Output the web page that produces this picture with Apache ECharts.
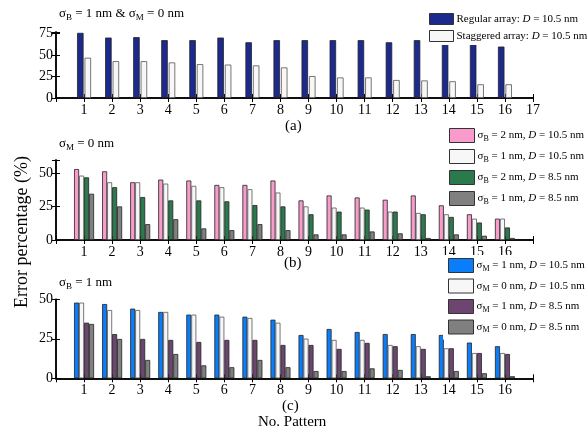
<!DOCTYPE html>
<html>
<head>
<meta charset="utf-8">
<script src="https://cdn.jsdelivr.net/npm/echarts@6/dist/echarts.min.js"></script>
<style>html,body{margin:0;padding:0;background:#fff;}#c{width:588px;height:435px;}</style>
</head>
<body>
<div id="c"></div>
<script>
// ---- data ----
var patterns = [1,2,3,4,5,6,7,8,9,10,11,12,13,14,15,16];
var regularA   = [76, 70.5, 71, 67.5, 67.5, 70.5, 65, 67.5, 67.5, 67.5, 67.5, 65, 67.5, 63.5, 63.5, 60];
var staggeredA = [47, 43, 43, 41.5, 39.5, 39, 38, 35.7, 25.6, 24, 24, 21, 20.5, 19.5, 16, 16];

var bPink  = [53.2, 51.5, 43.3, 45.3, 44.6, 41.3, 41.3, 44.6, 29.7, 33.4, 31.9, 30.2, 33.4, 26, 19.3, 16];
var bWhite = [48.3, 43.3, 43.3, 42.3, 40.6, 39.6, 38.1, 35.6, 25.2, 24.3, 24.3, 21.3, 20.3, 19.3, 16, 16];
var bGreen = [47, 39.6, 32.2, 29.7, 29.7, 29, 26.2, 25.2, 19.3, 21.3, 22.8, 21.3, 19.3, 17.3, 13.1, 9.4];
var bGray  = [34.7, 25.2, 11.9, 15.6, 8.7, 7.4, 11.9, 7.4, 4.2, 4.2, 6.4, 5, 1.5, 4.2, 3.2, 1.5];

var cBlue   = [47.9, 47, 44.1, 42, 40.3, 40.3, 39, 37.1, 27.4, 31.2, 29.3, 28, 28, 27.4, 22.6, 20.3];
var cWhite  = [47.9, 43.2, 43.2, 42, 40.3, 39, 38.2, 35.2, 25.1, 24.3, 24.3, 21.1, 20.3, 19, 16, 16];
var cPurple = [35.2, 28, 24.9, 24.3, 23, 24.3, 24.3, 21.1, 21.1, 18.6, 22.4, 20.3, 18.6, 19, 16, 15.4];
var cGray   = [34.4, 24.9, 11.6, 15.4, 8.2, 7, 11.6, 7, 4.6, 4.6, 6.3, 5.3, 1.3, 4.6, 3.2, 1.3];

var namesA = ['Regular array: D = 10.5 nm', 'Staggered array: D = 10.5 nm'];
var namesB = ['σB = 2 nm, D = 10.5 nm', 'σB = 1 nm, D = 10.5 nm', 'σB = 2 nm, D = 8.5 nm', 'σB = 1 nm, D = 8.5 nm'];
var namesC = ['σM = 1 nm, D = 10.5 nm', 'σM = 0 nm, D = 10.5 nm', 'σM = 1 nm, D = 8.5 nm', 'σM = 0 nm, D = 8.5 nm'];
var richNames = {};
richNames[namesA[0]] = '{n|Regular array: }{i|D}{n| = 10.5 nm}';
richNames[namesA[1]] = '{n|Staggered array: }{i|D}{n| = 10.5 nm}';
richNames[namesB[0]] = '{n|σ}{s|B}{n| = 2 nm, }{i|D}{n| = 10.5 nm}';
richNames[namesB[1]] = '{n|σ}{s|B}{n| = 1 nm, }{i|D}{n| = 10.5 nm}';
richNames[namesB[2]] = '{n|σ}{s|B}{n| = 2 nm, }{i|D}{n| = 8.5 nm}';
richNames[namesB[3]] = '{n|σ}{s|B}{n| = 1 nm, }{i|D}{n| = 8.5 nm}';
richNames[namesC[0]] = '{n|σ}{s|M}{n| = 1 nm, }{i|D}{n| = 10.5 nm}';
richNames[namesC[1]] = '{n|σ}{s|M}{n| = 0 nm, }{i|D}{n| = 10.5 nm}';
richNames[namesC[2]] = '{n|σ}{s|M}{n| = 1 nm, }{i|D}{n| = 8.5 nm}';
richNames[namesC[3]] = '{n|σ}{s|M}{n| = 0 nm, }{i|D}{n| = 8.5 nm}';

var FONT = '"Liberation Serif", "Times New Roman", serif';

function pairs(vals) { return vals.map(function (v, i) { return [patterns[i], v]; }); }

var grids = [
  {left: 56, right: 55, top: 32, height: 66},
  {left: 56, right: 55, top: 160, height: 80},
  {left: 56, right: 55, top: 299.3, height: 79}
];
var yMax = [77, 60, 50];
var xLabelMax = [17, 16, 16];

var xAxes = [], yAxes = [];
grids.forEach(function (g, k) {
  xAxes.push({
    type: 'value', gridIndex: k, position: 'bottom', min: 0, max: 17, interval: 1,
    axisLine: {show: true, lineStyle: {color: '#000', width: 1.5}},
    axisTick: {show: true, inside: true, length: 4, lineStyle: {color: '#000', width: 1}},
    splitLine: {show: false},
    axisLabel: {margin: 5, fontFamily: FONT, fontSize: 14, color: '#000',
      formatter: (function (m) { return function (v) { return (v >= 1 && v <= m) ? String(v) : ''; }; })(xLabelMax[k])}
  });
  xAxes.push({
    type: 'value', gridIndex: k, position: 'top', min: 0, max: 17, interval: 1,
    axisLine: {show: true, lineStyle: {color: '#000', width: 1.5}},
    axisTick: {show: true, inside: true, length: 4, lineStyle: {color: '#000', width: 1}},
    splitLine: {show: false}, axisLabel: {show: false}
  });
  yAxes.push({
    type: 'value', gridIndex: k, position: 'left', min: 0, max: yMax[k], interval: 25,
    axisLine: {show: true, lineStyle: {color: '#000', width: 1.5}},
    axisTick: {show: true, inside: true, length: 4, lineStyle: {color: '#000', width: 1}},
    splitLine: {show: false},
    axisLabel: {margin: 3, fontFamily: FONT, fontSize: 14, color: '#000',
      formatter: function (v) { return v % 25 === 0 ? String(v) : ''; }}
  });
  yAxes.push({
    type: 'value', gridIndex: k, position: 'right', min: 0, max: yMax[k], interval: 25,
    axisLine: {show: true, lineStyle: {color: '#000', width: 1.5}},
    axisTick: {show: true, inside: true, length: 4, lineStyle: {color: '#000', width: 1}},
    splitLine: {show: false}, axisLabel: {show: false}
  });
});

function bar(name, vals, color, panel, width, gap, border) {
  return {
    type: 'bar', name: name, data: pairs(vals),
    xAxisIndex: panel * 2, yAxisIndex: panel * 2,
    barWidth: width, barGap: gap,
    itemStyle: {color: color, borderColor: border || '#222', borderWidth: 0.8},
    emphasis: {disabled: true}, animation: false
  };
}

var series = [
  bar(namesA[0], regularA, '#1b2a8c', 0, 6.5, '15%'),
  bar(namesA[1], staggeredA, '#f7f7f7', 0, 6.5, '15%', '#555'),
  bar(namesB[0], bPink, '#f99ccb', 1, 5, '0%'),
  bar(namesB[1], bWhite, '#f7f7f7', 1, 5, '0%', '#555'),
  bar(namesB[2], bGreen, '#2b7a4e', 1, 5, '0%'),
  bar(namesB[3], bGray, '#808080', 1, 5, '0%'),
  bar(namesC[0], cBlue, '#0a7dfb', 2, 5, '0%'),
  bar(namesC[1], cWhite, '#f7f7f7', 2, 5, '0%', '#555'),
  bar(namesC[2], cPurple, '#6c4670', 2, 5, '0%'),
  bar(namesC[3], cGray, '#808080', 2, 5, '0%')
];

var legendRich = {
  n: {fontFamily: FONT, fontSize: 11, lineHeight: 14, color: '#000'},
  i: {fontFamily: FONT, fontSize: 11, lineHeight: 14, fontStyle: 'italic', color: '#000'},
  s: {fontFamily: FONT, fontSize: 8, lineHeight: 8, verticalAlign: 'bottom', color: '#000'}
};
function legend(names, left, top, iw, ih, gap, pad) {
  return {
    data: names, orient: 'vertical', left: left, top: top, align: 'left',
    itemWidth: iw, itemHeight: ih, itemGap: gap, padding: pad,
    backgroundColor: '#fff', selectedMode: false, icon: 'rect',
    itemStyle: {borderColor: '#333', borderWidth: 1},
    formatter: function (n) { return richNames[n]; },
    textStyle: {fontFamily: FONT, fontSize: 11, color: '#000', padding: [0, 0, 0, -2], rich: legendRich}
  };
}

var titleRich = {
  n: {fontFamily: FONT, fontSize: 13, lineHeight: 16, color: '#000'},
  s: {fontFamily: FONT, fontSize: 9, lineHeight: 9, verticalAlign: 'bottom', color: '#000'}
};
function ttl(text, left, top, size) {
  return {text: text, left: left, top: top, padding: 0,
    textStyle: {fontFamily: FONT, fontSize: size || 13, fontWeight: 'normal', color: '#000', rich: titleRich}};
}

var option = {
  animation: false,
  backgroundColor: '#fff',
  grid: grids,
  xAxis: xAxes,
  yAxis: yAxes,
  series: series,
  legend: [
    legend(namesA, 427, 11, 24, 11, 5, [2, 20, 3, 2]),
    legend(namesB, 444, 125, 25, 14, 6, [3, 20, 5, 5]),
    legend(namesC, 443, 255, 25, 14, 5.5, [3, 20, 5, 5])
  ],
  title: [
    ttl('{n|σ}{s|B}{n| = 1 nm & σ}{s|M}{n| = 0 nm}', 59, 6),
    ttl('{n|σ}{s|M}{n| = 0 nm}', 59, 136),
    ttl('{n|σ}{s|B}{n| = 1 nm}', 59, 275),
    {text: '(a)', left: 285, top: 119, padding: 0, textStyle: {fontFamily: FONT, fontSize: 15, fontWeight: 'normal', color: '#000'}},
    {text: '(b)', left: 284, top: 256, padding: 0, textStyle: {fontFamily: FONT, fontSize: 15, fontWeight: 'normal', color: '#000'}},
    {text: '(c)', left: 282, top: 399, padding: 0, textStyle: {fontFamily: FONT, fontSize: 15, fontWeight: 'normal', color: '#000'}},
    {text: 'No. Pattern', left: 258, top: 415, padding: 0, textStyle: {fontFamily: FONT, fontSize: 15, fontWeight: 'normal', color: '#000'}}
  ],
  graphic: [{
    type: 'text', x: 22, y: 232, rotation: Math.PI / 2,
    style: {text: 'Error percentage (%)', fontFamily: FONT, fontSize: 18, fill: '#000', align: 'center', verticalAlign: 'middle'}
  }]
};

var chart = echarts.init(document.getElementById('c'), null, {renderer: 'canvas'});
chart.setOption(option);
</script>
</body>
</html>
